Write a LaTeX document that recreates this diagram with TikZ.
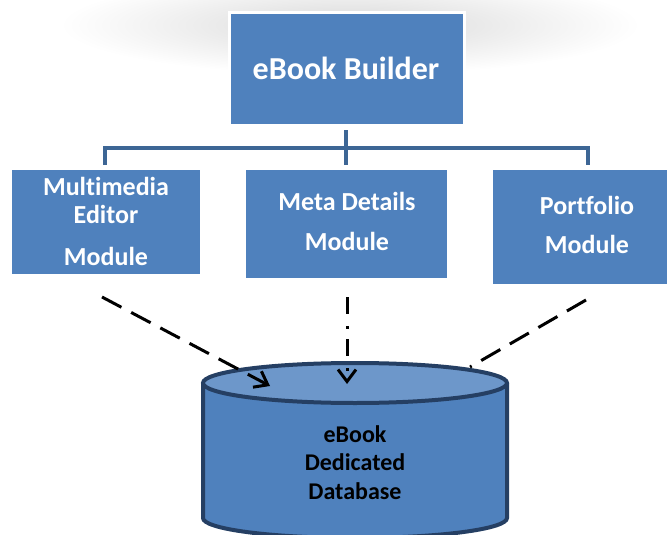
\documentclass[tikz,border=0pt]{standalone}
\usepackage{fontspec}
\setmainfont[Ligatures=NoCommon]{Carlito}
\usetikzlibrary{arrows.meta}
\definecolor{boxblue}{HTML}{4F81BD}
\definecolor{linkblue}{HTML}{3D6695}
\definecolor{topblue}{HTML}{6D97CA}
\definecolor{rimblue}{HTML}{253F63}
\tikzset{
  box/.style={fill=boxblue,draw=none},
  wtxt/.style={text=white,font=\bfseries\fontsize{26}{26}\selectfont,inner sep=0pt,anchor=base},
  btxt/.style={text=black,font=\bfseries\fontsize{24}{24}\selectfont,inner sep=0pt,anchor=base},
  link/.style={draw=linkblue,line width=4pt},
  flow/.style={draw=black,line width=3pt,dash pattern=on 22pt off 11pt},
  vtip/.style={-{Straight Barb[length=12pt,width=18pt,line width=3pt]}}
}
\begin{document}
\begin{tikzpicture}[x=1pt,y=-1pt]
\useasboundingbox (0,0) rectangle (667,535);
% faint background haze
\shade[inner color=gray!30,outer color=white] (350,25) ellipse (290 and 50);
% top box
\node[box,draw=white,line width=3pt,minimum width=235pt,minimum height=112pt,inner sep=0pt] (top) at (346.5,69) {};
\node[wtxt,font=\bfseries\fontsize{32}{32}\selectfont] (toptxt) at (346,80) {eBook Builder};
% modules
\node[box,minimum width=188pt,minimum height=104pt,inner sep=0pt] (mm) at (106,222) {};
\node[box,minimum width=201pt,minimum height=108pt,inner sep=0pt] (md) at (346.5,224) {};
\node[box,minimum width=176pt,minimum height=114pt,inner sep=0pt] (pf) at (581,227) {};
\node[wtxt] (mm1) at (106,195) {Multimedia};
\node[wtxt] (mm2) at (106,223) {Editor};
\node[wtxt] (mm3) at (106,265) {Module};
\node[wtxt] (md1) at (347,210) {Meta Details};
\node[wtxt] (md2) at (347,250) {Module};
\node[wtxt] (pf1) at (587,214) {Portfolio};
\node[wtxt] (pf2) at (587,253) {Module};
% org connectors
\coordinate (jc) at (346,148);
\draw[link] (346,130) -- (jc);
\draw[link,line cap=butt] (105,165) -- (105,148) -- (588,148) -- (588,165);
\draw[link] (jc) -- (346,165);
% database cylinder
\coordinate (dbtop) at (355,383);
\fill[boxblue] (203,383) -- (203,518) arc[start angle=180,end angle=0,x radius=152,y radius=20] -- (507,383) -- cycle;
\draw[rimblue,line width=4pt] (203,383) -- (203,518) arc[start angle=180,end angle=0,x radius=152,y radius=20] -- (507,383);
\draw[rimblue,line width=4pt,fill=topblue] (dbtop) ellipse (152 and 20);
\node[btxt] (db1) at (355,442) {eBook};
\node[btxt] (db2) at (355,470) {Dedicated};
\node[btxt] (db3) at (355,499) {Database};
% flow arrows
\coordinate (a1s) at (102,297);
\coordinate (a1e) at (270,386);
\coordinate (a2s) at (347,297);
\coordinate (a2e) at (347,384);
\coordinate (a3s) at (586,300);
\coordinate (a3e) at (470,367);
\draw[flow,vtip] (a1s) -- (a1e);
\draw[black,line width=3pt,dash pattern=on 17pt off 12pt on 3pt off 10pt,vtip] (a2s) -- (a2e);
\draw[flow] (a3s) -- (a3e);
\end{tikzpicture}
\end{document}
